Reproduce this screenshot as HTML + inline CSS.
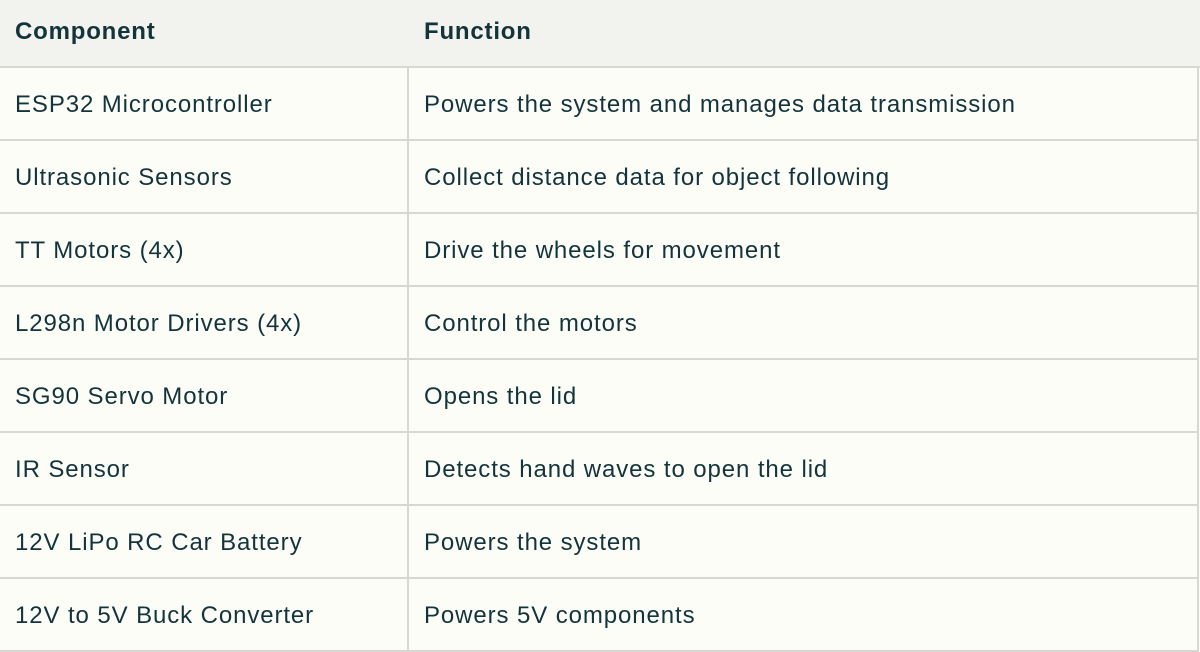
<!DOCTYPE html>
<html><head><style>
body{margin:0;width:1200px;height:652px;background:#fdfdf8;font-family:"Liberation Sans",sans-serif;color:#13343b;overflow:hidden;position:relative}
.h{position:absolute;left:0;top:0;width:1200px;height:66px;background:#f2f2ee;border-bottom:2px solid #d8d8d0}
.t{position:absolute;font-size:24px;line-height:26px;white-space:nowrap;letter-spacing:0.9px;margin-top:2px}
.b{font-weight:bold;letter-spacing:0.8px}
.hl{position:absolute;left:0;width:1198px;height:2px;background:#d8d8d0}
.vl{position:absolute;width:2px;background:#d8d8d0}
</style></head><body>
<div class="h"></div>
<div class="t b" style="left:15px;top:17px">Component</div>
<div class="t b" style="left:424px;top:17px">Function</div>
<div class="vl" style="left:407px;top:68px;height:584px"></div>
<div class="vl" style="left:1197px;top:68px;height:584px"></div>
<div class="hl" style="top:139px"></div>
<div class="hl" style="top:212px"></div>
<div class="hl" style="top:285px"></div>
<div class="hl" style="top:358px"></div>
<div class="hl" style="top:431px"></div>
<div class="hl" style="top:504px"></div>
<div class="hl" style="top:577px"></div>
<div class="hl" style="top:650px"></div>
<div class="t" style="left:15px;top:90px">ESP32 Microcontroller</div>
<div class="t" style="left:424px;top:90px">Powers the system and manages data transmission</div>
<div class="t" style="left:15px;top:163px">Ultrasonic Sensors</div>
<div class="t" style="left:424px;top:163px">Collect distance data for object following</div>
<div class="t" style="left:15px;top:236px">TT Motors (4x)</div>
<div class="t" style="left:424px;top:236px">Drive the wheels for movement</div>
<div class="t" style="left:15px;top:309px">L298n Motor Drivers (4x)</div>
<div class="t" style="left:424px;top:309px">Control the motors</div>
<div class="t" style="left:15px;top:382px">SG90 Servo Motor</div>
<div class="t" style="left:424px;top:382px">Opens the lid</div>
<div class="t" style="left:15px;top:455px">IR Sensor</div>
<div class="t" style="left:424px;top:455px">Detects hand waves to open the lid</div>
<div class="t" style="left:15px;top:528px">12V LiPo RC Car Battery</div>
<div class="t" style="left:424px;top:528px">Powers the system</div>
<div class="t" style="left:15px;top:601px">12V to 5V Buck Converter</div>
<div class="t" style="left:424px;top:601px">Powers 5V components</div>
</body></html>
